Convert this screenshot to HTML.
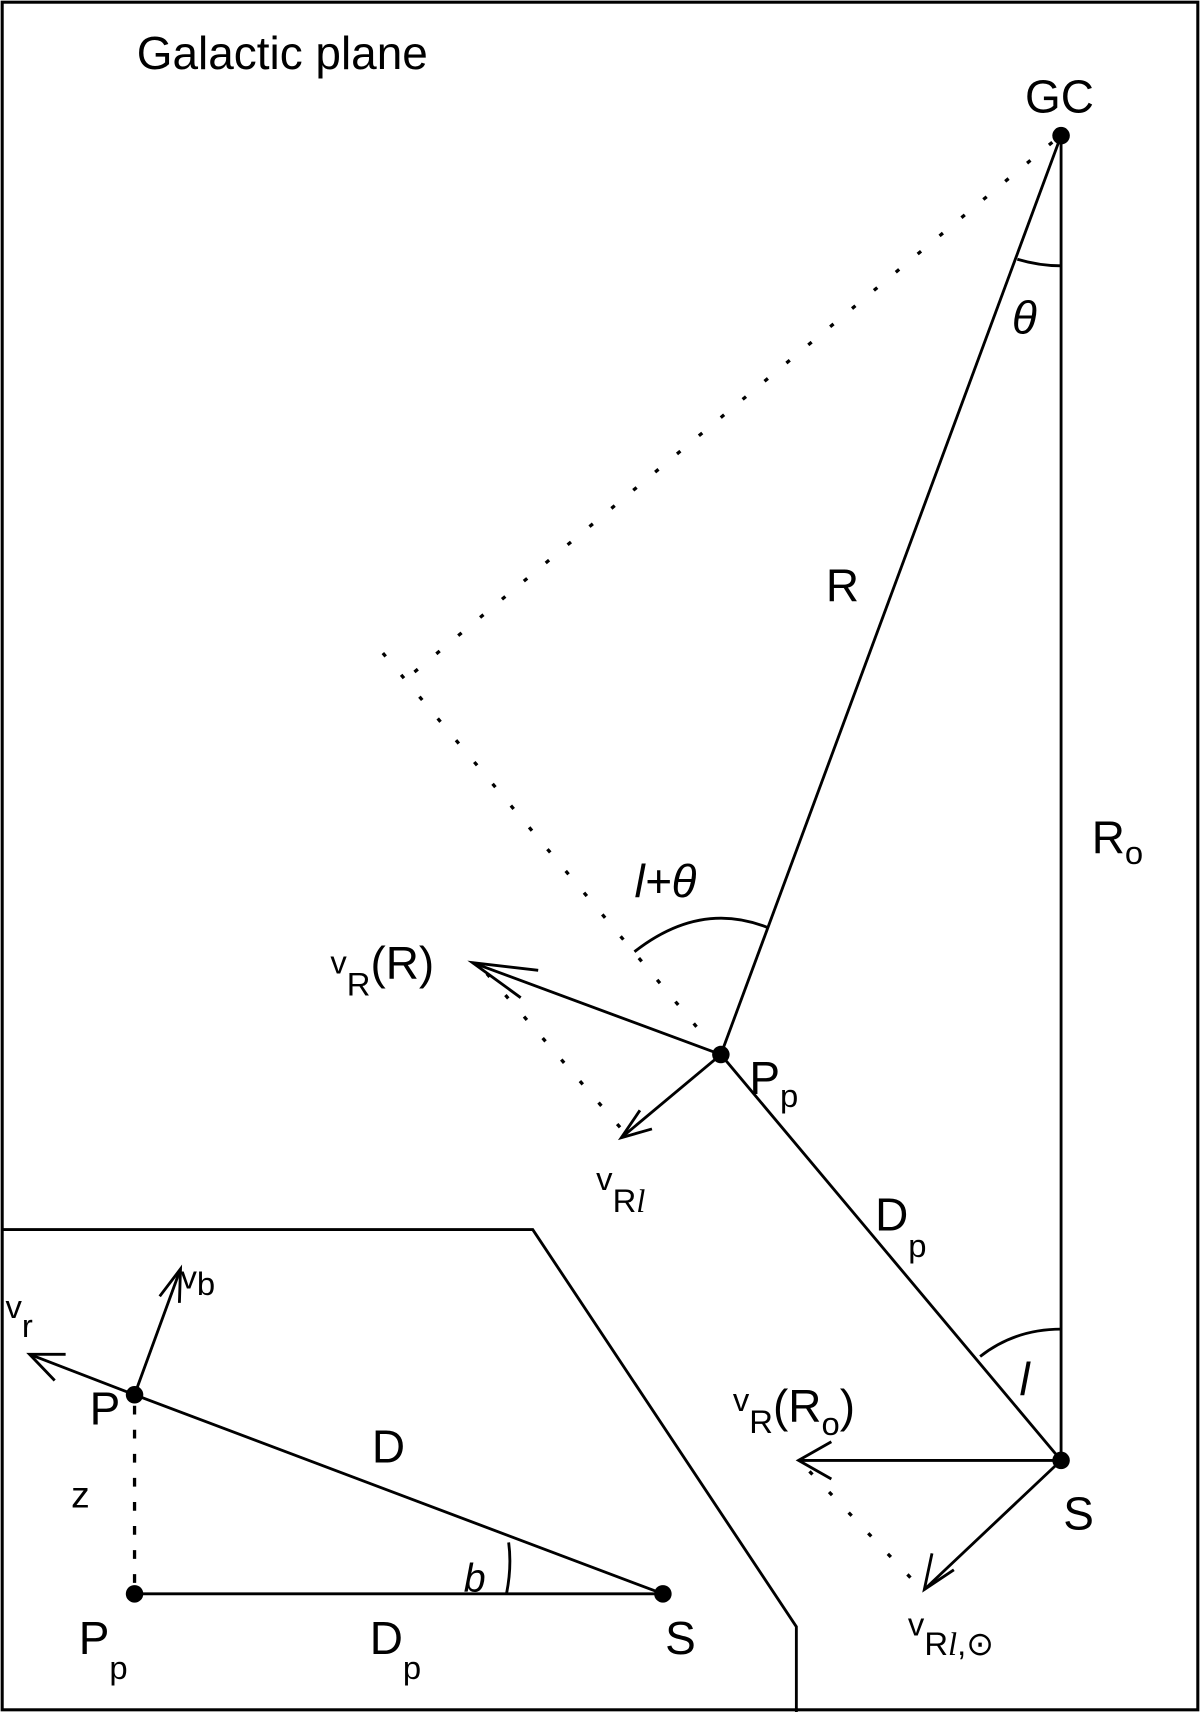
<!DOCTYPE html>
<html><head><meta charset="utf-8"><style>
html,body{margin:0;padding:0;background:#fff;}
svg{display:block;}
text{font-family:"Liberation Sans",sans-serif;fill:#000;}
</style></head><body>
<svg width="1200" height="1712" viewBox="0 0 1097 1565" preserveAspectRatio="none" xmlns="http://www.w3.org/2000/svg">
<g fill="none" stroke="#000" stroke-width="2.6">
<rect x="2" y="2" width="1093" height="1561" stroke-width="2.8"/>
<polyline points="2,1124 487,1124 728,1487 728,1565"/>
<line x1="970" y1="124" x2="970" y2="1335"/>
<line x1="970" y1="124" x2="659" y2="964"/>
<line x1="659" y1="964" x2="970" y2="1335"/>
<g stroke-dasharray="4,22" stroke-width="3">
<line x1="962" y1="130" x2="372" y2="620"/>
<line x1="350" y1="597" x2="648" y2="952"/>
<line x1="445" y1="890" x2="575" y2="1040"/>
<line x1="740" y1="1345" x2="835" y2="1445"/>
<line x1="123" y1="1285" x2="123" y2="1450" stroke-dasharray="8,14"/>
</g>
<path d="M930,237 Q950,243 970,243"/>
<path d="M580,870 Q640,823 702,848"/>
<path d="M896,1240 Q928,1215 970,1215"/>
<path d="M463,1457 Q468,1432 465,1410"/>
<line x1="659" y1="964" x2="432" y2="880"/>
<polyline points="492,887 432,880 476,912"/>
<line x1="659" y1="964" x2="568" y2="1040"/>
<polyline points="585,1015 568,1040 596,1032"/>
<line x1="970" y1="1335" x2="730" y2="1335"/>
<polyline points="760,1318 730,1335 760,1352"/>
<line x1="970" y1="1335" x2="845" y2="1453"/>
<polyline points="852,1420 845,1453 872,1435"/>
<line x1="123" y1="1275" x2="606" y2="1457"/>
<line x1="123" y1="1457" x2="606" y2="1457"/>
<line x1="123" y1="1275" x2="27" y2="1238"/>
<polyline points="60,1238 27,1238 50,1262"/>
<line x1="123" y1="1275" x2="165" y2="1160"/>
<polyline points="146,1185 165,1160 164,1191"/>
</g>
<g fill="#000">
<circle cx="970" cy="124" r="8"/>
<circle cx="659" cy="964" r="8"/>
<circle cx="970" cy="1335" r="8"/>
<circle cx="123" cy="1275" r="8"/>
<circle cx="123" cy="1457" r="8"/>
<circle cx="606" cy="1457" r="8"/>
</g>
<g font-size="42">
<text x="125" y="63">Galactic plane</text>
<text x="937" y="103">GC</text>
<text x="925" y="305" font-family="Liberation Serif" font-style="italic">θ</text>
<text x="755" y="550">R</text>
<text x="998" y="780">R<tspan font-size="30" dy="10">o</tspan></text>
<text x="580" y="820" font-family="Liberation Serif" font-style="italic">l+θ</text>
<text x="302" y="890"><tspan font-size="30">v</tspan><tspan font-size="30" dy="20">R</tspan><tspan dy="-15">(R)</tspan></text>
<text x="685" y="1000">P<tspan font-size="30" dy="12">p</tspan></text>
<text x="545" y="1088"><tspan font-size="30">v</tspan><tspan font-size="30" dy="20">R</tspan><tspan font-size="30" font-family="Liberation Serif" font-style="italic">l</tspan></text>
<text x="800" y="1125">D<tspan font-size="30" dy="24">p</tspan></text>
<text x="932" y="1275" font-family="Liberation Serif" font-style="italic">l</text>
<text x="670" y="1290"><tspan font-size="30">v</tspan><tspan font-size="30" dy="20">R</tspan><tspan dy="-10">(R</tspan><tspan font-size="30" dy="12">o</tspan><tspan dy="-12">)</tspan></text>
<text x="972" y="1398">S</text>
<text x="830" y="1495"><tspan font-size="30">v</tspan><tspan font-size="30" dy="18">R</tspan><tspan font-size="30" font-family="Liberation Serif" font-style="italic">l</tspan><tspan font-size="30">,⊙</tspan></text>
<text x="165" y="1178"><tspan font-size="30">v</tspan><tspan font-size="30" dy="6">b</tspan></text>
<text x="5" y="1205"><tspan font-size="30">v</tspan><tspan font-size="30" dy="17">r</tspan></text>
<text x="82" y="1302">P</text>
<text x="340" y="1337">D</text>
<text x="65" y="1378" font-size="34">z</text>
<text x="424" y="1455" font-family="Liberation Serif" font-style="italic" font-size="36">b</text>
<text x="72" y="1512">P<tspan font-size="30" dy="23">p</tspan></text>
<text x="338" y="1512">D<tspan font-size="30" dy="23">p</tspan></text>
<text x="608" y="1512">S</text>
</g>
</svg>
</body></html>
